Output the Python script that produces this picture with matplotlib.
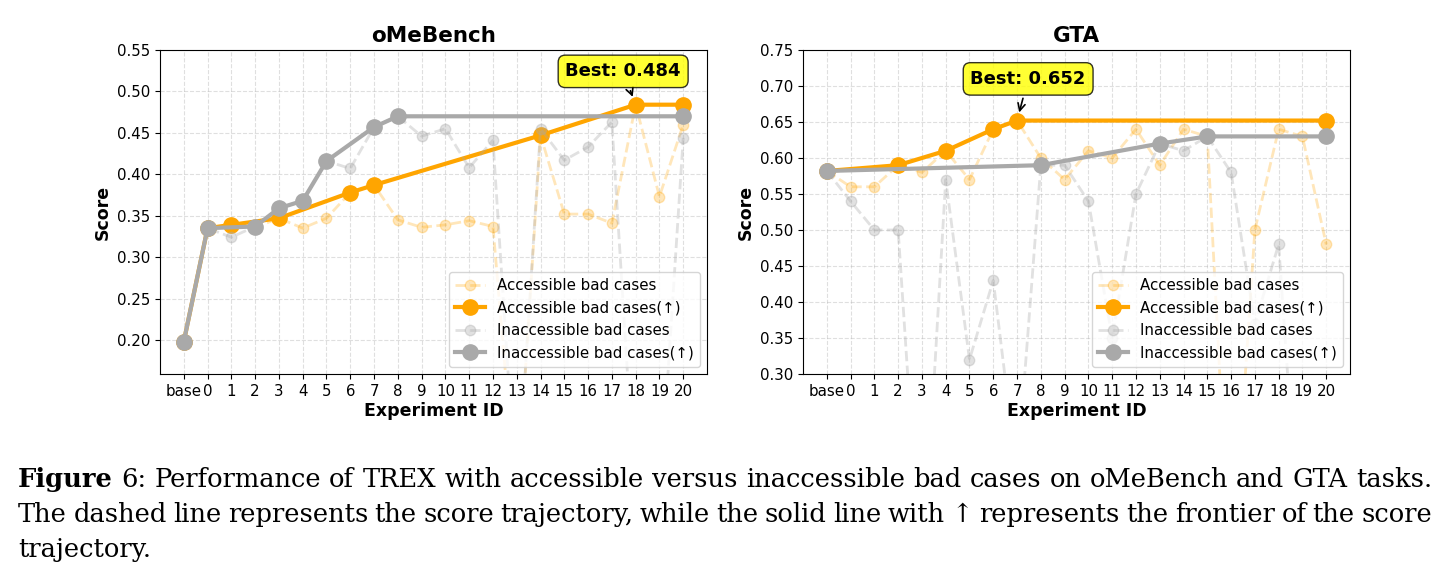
import matplotlib
matplotlib.use('Agg')
import matplotlib.pyplot as plt

exp_ids = ['base'] + [str(i) for i in range(21)]

# oMeBench scores (base, 0..20)
ome_accessible = [0.198, 0.335, 0.339, 0.336, 0.347, 0.335, 0.347, 0.378, 0.387, 0.345, 0.336,
                  0.339, 0.344, 0.337, 0.0, 0.447, 0.352, 0.352, 0.341, 0.484, 0.373, 0.460]
ome_inaccessible = [0.198, 0.335, 0.324, 0.337, 0.359, 0.368, 0.416, 0.407, 0.457, 0.470, 0.446,
                    0.455, 0.408, 0.441, 0.0, 0.455, 0.417, 0.433, 0.463, 0.0, 0.0, 0.444]

# GTA scores (base, 0..20)
gta_accessible = [0.582, 0.56, 0.56, 0.59, 0.58, 0.61, 0.57, 0.64, 0.652, 0.60, 0.57,
                  0.61, 0.60, 0.64, 0.59, 0.64, 0.63, 0.0, 0.50, 0.64, 0.63, 0.48]
gta_inaccessible = [0.582, 0.54, 0.50, 0.50, 0.0, 0.57, 0.32, 0.43, 0.16, 0.59, 0.59,
                    0.54, 0.35, 0.55, 0.62, 0.61, 0.63, 0.58, 0.37, 0.48, 0.0, 0.0]

caption_line1 = 'Figure 6: Performance of TREX with accessible versus inaccessible bad cases on oMeBench and GTA tasks.'
caption_line2 = 'The dashed line represents the score trajectory, while the solid line with \u2191 represents the frontier of the score'
caption_line3 = 'trajectory.'

ORANGE = '#FFA500'
GRAY = '#A9A9A9'
CAPTION_FONT = ['DejaVu Serif', 'Liberation Serif']


def frontier(vals):
    xs, ys = [], []
    best = None
    for i, v in enumerate(vals):
        if best is None or v > best:
            best = v
            xs.append(i)
            ys.append(v)
    if xs[-1] != len(vals) - 1:
        xs.append(len(vals) - 1)
        ys.append(best)
    return xs, ys


def panel(ax, title, acc, inacc, ylim, text_offset):
    x = list(range(len(exp_ids)))
    fx, fy = frontier(acc)
    gx, gy = frontier(inacc)

    ax.plot(x, acc, '--', color=ORANGE, alpha=0.27, lw=2, marker='o', ms=7.5,
            label='Accessible bad cases')
    ax.plot(fx, fy, '-', color=ORANGE, lw=3, marker='o', ms=11,
            label='Accessible bad cases(\u2191)')
    ax.plot(x, inacc, '--', color=GRAY, alpha=0.35, lw=2, marker='o', ms=7.5,
            label='Inaccessible bad cases')
    ax.plot(gx, gy, '-', color=GRAY, lw=3, marker='o', ms=11,
            label='Inaccessible bad cases(\u2191)')

    best = max(acc)
    bi = acc.index(best)
    ax.annotate(f'Best: {best:.3f}', xy=(bi, best), xytext=text_offset,
                textcoords='offset points', ha='center', va='center',
                fontsize=13, fontweight='bold',
                bbox=dict(boxstyle='round,pad=0.4', fc='yellow', ec='black', alpha=0.8),
                arrowprops=dict(arrowstyle='->', color='black', lw=1.2, shrinkB=6))

    ax.set_xticks(x)
    ax.set_xticklabels(exp_ids, fontsize=10.8)
    ax.tick_params(axis='y', labelsize=10.8)
    ax.set_xlim(-1, 22)
    ax.set_ylim(*ylim)
    ax.grid(True, linestyle='--', alpha=0.4)
    ax.set_title(title, fontsize=15.5, fontweight='bold')
    ax.set_xlabel('Experiment ID', fontsize=12.5, fontweight='bold', labelpad=2)
    ax.set_ylabel('Score', fontsize=12.5, fontweight='bold')
    ax.legend(loc='lower right', fontsize=10.8, framealpha=0.8)


def caption_size(fig, line, x0, x1):
    # pick a font size so that the first line fills the column naturally
    r = fig.canvas.get_renderer()
    t = fig.text(0, 0, line, fontsize=20, family=CAPTION_FONT)
    w = t.get_window_extent(r).width
    t.remove()
    return 20 * (x1 - x0) * fig.bbox.width / w * 0.99


def justified_line(fig, words, y, x0, x1, size, bold_first=False, justify=True):
    r = fig.canvas.get_renderer()
    texts = []
    for i, w in enumerate(words):
        t = fig.text(0, y, w, fontsize=size, family=CAPTION_FONT,
                     fontweight='bold' if (bold_first and i == 0) else 'normal',
                     va='baseline')
        texts.append(t)
    W = fig.bbox.width
    widths = [t.get_window_extent(r).width for t in texts]
    if justify and len(words) > 1:
        gap = ((x1 - x0) * W - sum(widths)) / (len(words) - 1)
    else:
        gap = 7
    xpos = x0 * W
    for t, w in zip(texts, widths):
        t.set_x(xpos / W)
        xpos += w + gap


fig = plt.figure(figsize=(14.48, 5.81), dpi=100)
ax1 = fig.add_axes([160 / 1448, 1 - 374 / 581, 547 / 1448, 324 / 581])
ax2 = fig.add_axes([803 / 1448, 1 - 374 / 581, 547 / 1448, 324 / 581])

panel(ax1, 'oMeBench', ome_accessible, ome_inaccessible, (0.159, 0.55), (-9, 24))
panel(ax2, 'GTA', gta_accessible, gta_inaccessible, (0.30, 0.75), (8, 30))

left, right = 18 / 1448, 1432 / 1448
size = caption_size(fig, caption_line1, left, right)
justified_line(fig, caption_line1.split(' '), 1 - 487 / 581, left, right, size, bold_first=True)
justified_line(fig, caption_line2.split(' '), 1 - 522 / 581, left, right, size)
justified_line(fig, caption_line3.split(' '), 1 - 557 / 581, left, right, size, justify=False)

fig.savefig('out.png', dpi=100)
